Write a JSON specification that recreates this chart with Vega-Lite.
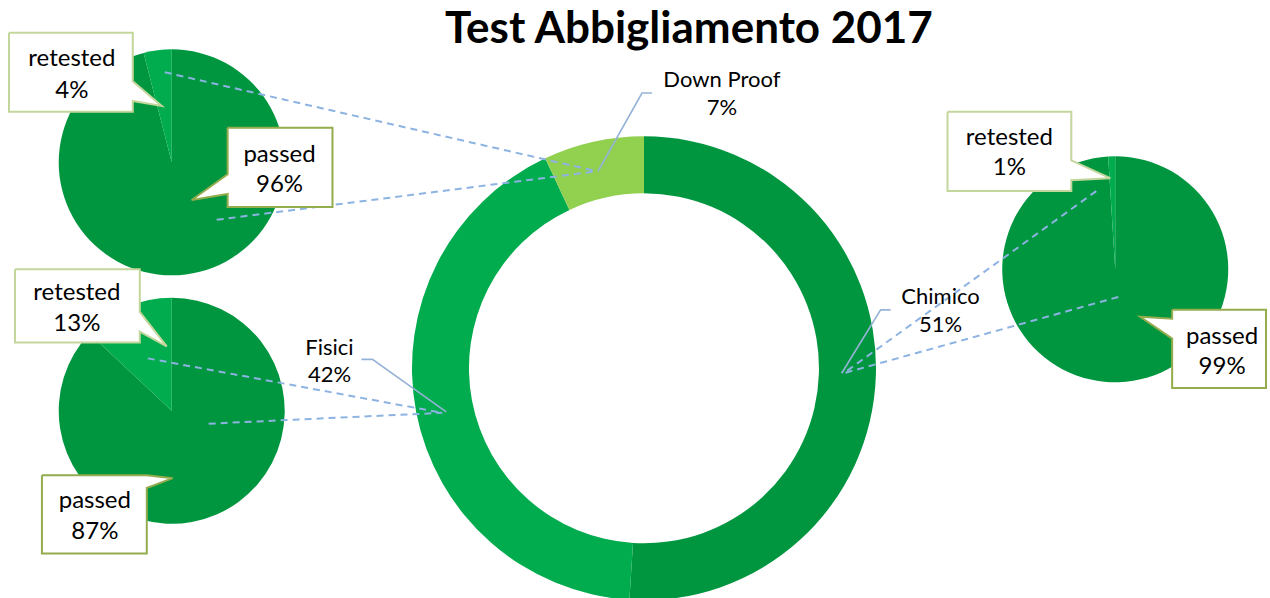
{
  "$schema": "https://vega.github.io/schema/vega-lite/v6.json",
  "width": 1270,
  "height": 598,
  "autosize": {"type": "fit", "contains": "padding"},
  "padding": 0,
  "background": "white",
  "config": {
    "view": {"stroke": null},
    "axis": {"disable": true},
    "text": {"font": "Lato", "color": "#000000"}
  },
  "datasets": {
    "slices": [
      {"chart": "donut", "label": "Chimico", "pct": 51, "ord": 1},
      {"chart": "donut", "label": "Fisici", "pct": 42, "ord": 2},
      {"chart": "donut", "label": "Down Proof", "pct": 7, "ord": 3},
      {"chart": "topleft", "label": "passed", "pct": 96, "ord": 1},
      {"chart": "topleft", "label": "retested", "pct": 4, "ord": 2},
      {"chart": "bottomleft", "label": "passed", "pct": 87, "ord": 1},
      {"chart": "bottomleft", "label": "retested", "pct": 13, "ord": 2},
      {"chart": "right", "label": "passed", "pct": 99, "ord": 1},
      {"chart": "right", "label": "retested", "pct": 1, "ord": 2}
    ],
    "callouts": [
      {"id": "A", "kind": "retested", "i": 1, "x": 9, "y": 33},
      {"id": "A", "kind": "retested", "i": 2, "x": 133, "y": 33},
      {"id": "A", "kind": "retested", "i": 3, "x": 133, "y": 82},
      {"id": "A", "kind": "retested", "i": 4, "x": 162, "y": 107},
      {"id": "A", "kind": "retested", "i": 5, "x": 133, "y": 102},
      {"id": "A", "kind": "retested", "i": 6, "x": 133, "y": 113},
      {"id": "A", "kind": "retested", "i": 7, "x": 9, "y": 113},
      {"id": "A", "kind": "retested", "i": 8, "x": 9, "y": 33},
      {"id": "B", "kind": "passed", "i": 1, "x": 228, "y": 129},
      {"id": "B", "kind": "passed", "i": 2, "x": 333, "y": 129},
      {"id": "B", "kind": "passed", "i": 3, "x": 333, "y": 209},
      {"id": "B", "kind": "passed", "i": 4, "x": 228, "y": 209},
      {"id": "B", "kind": "passed", "i": 5, "x": 228, "y": 196},
      {"id": "B", "kind": "passed", "i": 6, "x": 192, "y": 202},
      {"id": "B", "kind": "passed", "i": 7, "x": 228, "y": 176},
      {"id": "B", "kind": "passed", "i": 8, "x": 228, "y": 129},
      {"id": "C", "kind": "retested", "i": 1, "x": 15, "y": 272},
      {"id": "C", "kind": "retested", "i": 2, "x": 140, "y": 272},
      {"id": "C", "kind": "retested", "i": 3, "x": 140, "y": 315},
      {"id": "C", "kind": "retested", "i": 4, "x": 167, "y": 350},
      {"id": "C", "kind": "retested", "i": 5, "x": 140, "y": 335},
      {"id": "C", "kind": "retested", "i": 6, "x": 140, "y": 346},
      {"id": "C", "kind": "retested", "i": 7, "x": 15, "y": 346},
      {"id": "C", "kind": "retested", "i": 8, "x": 15, "y": 272},
      {"id": "D", "kind": "passed", "i": 1, "x": 42, "y": 480},
      {"id": "D", "kind": "passed", "i": 2, "x": 147, "y": 480},
      {"id": "D", "kind": "passed", "i": 3, "x": 173, "y": 483},
      {"id": "D", "kind": "passed", "i": 4, "x": 147, "y": 493},
      {"id": "D", "kind": "passed", "i": 5, "x": 147, "y": 559},
      {"id": "D", "kind": "passed", "i": 6, "x": 42, "y": 559},
      {"id": "D", "kind": "passed", "i": 7, "x": 42, "y": 480},
      {"id": "E", "kind": "retested", "i": 1, "x": 949, "y": 113},
      {"id": "E", "kind": "retested", "i": 2, "x": 1073, "y": 113},
      {"id": "E", "kind": "retested", "i": 3, "x": 1073, "y": 162},
      {"id": "E", "kind": "retested", "i": 4, "x": 1112, "y": 180},
      {"id": "E", "kind": "retested", "i": 5, "x": 1073, "y": 182},
      {"id": "E", "kind": "retested", "i": 6, "x": 1073, "y": 193},
      {"id": "E", "kind": "retested", "i": 7, "x": 949, "y": 193},
      {"id": "E", "kind": "retested", "i": 8, "x": 949, "y": 113},
      {"id": "F", "kind": "passed", "i": 1, "x": 1174, "y": 313},
      {"id": "F", "kind": "passed", "i": 2, "x": 1268, "y": 313},
      {"id": "F", "kind": "passed", "i": 3, "x": 1268, "y": 392},
      {"id": "F", "kind": "passed", "i": 4, "x": 1174, "y": 392},
      {"id": "F", "kind": "passed", "i": 5, "x": 1174, "y": 342},
      {"id": "F", "kind": "passed", "i": 6, "x": 1142, "y": 320},
      {"id": "F", "kind": "passed", "i": 7, "x": 1174, "y": 322},
      {"id": "F", "kind": "passed", "i": 8, "x": 1174, "y": 313}
    ],
    "dashes": [
      {"id": "d1", "i": 1, "x": 165, "y": 73},
      {"id": "d1", "i": 2, "x": 598, "y": 173},
      {"id": "d2", "i": 1, "x": 217, "y": 222},
      {"id": "d2", "i": 2, "x": 598, "y": 173},
      {"id": "d3", "i": 1, "x": 148, "y": 362},
      {"id": "d3", "i": 2, "x": 443, "y": 417},
      {"id": "d4", "i": 1, "x": 209, "y": 428},
      {"id": "d4", "i": 2, "x": 443, "y": 417},
      {"id": "d5", "i": 1, "x": 1098, "y": 193},
      {"id": "d5", "i": 2, "x": 845, "y": 377},
      {"id": "d6", "i": 1, "x": 1120, "y": 300},
      {"id": "d6", "i": 2, "x": 845, "y": 377}
    ],
    "leaders": [
      {"id": "Down Proof", "i": 1, "x": 653, "y": 94},
      {"id": "Down Proof", "i": 2, "x": 643, "y": 94},
      {"id": "Down Proof", "i": 3, "x": 599, "y": 173},
      {"id": "Fisici", "i": 1, "x": 362, "y": 363},
      {"id": "Fisici", "i": 2, "x": 373, "y": 363},
      {"id": "Fisici", "i": 3, "x": 447, "y": 416},
      {"id": "Chimico", "i": 1, "x": 892, "y": 313},
      {"id": "Chimico", "i": 2, "x": 882, "y": 313},
      {"id": "Chimico", "i": 3, "x": 843, "y": 377}
    ],
    "calloutText": [
      {"text": "retested", "x": 72, "y": 60},
      {"text": "4%", "x": 72, "y": 92},
      {"text": "passed", "x": 280, "y": 157},
      {"text": "96%", "x": 280, "y": 187},
      {"text": "retested", "x": 77, "y": 296},
      {"text": "13%", "x": 77, "y": 327},
      {"text": "passed", "x": 95, "y": 506},
      {"text": "87%", "x": 95, "y": 537},
      {"text": "retested", "x": 1011, "y": 139},
      {"text": "1%", "x": 1011, "y": 170},
      {"text": "passed", "x": 1224, "y": 340},
      {"text": "99%", "x": 1224, "y": 371}
    ],
    "donutText": [
      {"text": "Down Proof", "x": 723, "y": 81},
      {"text": "7%", "x": 723, "y": 109},
      {"text": "Fisici", "x": 330, "y": 352},
      {"text": "42%", "x": 330, "y": 379},
      {"text": "Chimico", "x": 942, "y": 300},
      {"text": "51%", "x": 942, "y": 328}
    ],
    "titleText": [
      {"text": "Test Abbigliamento 2017", "x": 690, "y": 43}
    ]
  },
  "layer": [
    {
      "data": {"name": "slices"},
      "transform": [{"filter": "datum.chart == 'donut'"}],
      "mark": {"type": "arc", "outerRadius": 232, "innerRadius": 175},
      "encoding": {
        "x": {"datum": 645, "type": "quantitative", "scale": {"domain": [0, 1270], "nice": false, "zero": false}},
        "y": {"datum": 372, "type": "quantitative", "scale": {"domain": [0, 598], "nice": false, "zero": false, "reverse": true}},
        "theta": {"field": "pct", "type": "quantitative", "stack": true, "scale": {"domain": [0, 100]}},
        "order": {"field": "ord", "type": "quantitative"},
        "color": {
          "field": "label", "type": "nominal", "legend": null,
          "scale": {"domain": ["Chimico", "Fisici", "Down Proof", "passed", "retested"], "range": ["#00963F", "#00AC4E", "#92D050", "#00963F", "#00AC4E"]}
        }
      }
    },
    {
      "data": {"name": "slices"},
      "transform": [{"filter": "datum.chart == 'topleft'"}],
      "mark": {"type": "arc", "outerRadius": 113},
      "encoding": {
        "x": {"datum": 172, "type": "quantitative"},
        "y": {"datum": 164, "type": "quantitative"},
        "theta": {"field": "pct", "type": "quantitative", "stack": true},
        "order": {"field": "ord", "type": "quantitative"},
        "color": {"field": "label", "type": "nominal", "legend": null}
      }
    },
    {
      "data": {"name": "slices"},
      "transform": [{"filter": "datum.chart == 'bottomleft'"}],
      "mark": {"type": "arc", "outerRadius": 113},
      "encoding": {
        "x": {"datum": 172, "type": "quantitative"},
        "y": {"datum": 415, "type": "quantitative"},
        "theta": {"field": "pct", "type": "quantitative", "stack": true},
        "order": {"field": "ord", "type": "quantitative"},
        "color": {"field": "label", "type": "nominal", "legend": null}
      }
    },
    {
      "data": {"name": "slices"},
      "transform": [{"filter": "datum.chart == 'right'"}],
      "mark": {"type": "arc", "outerRadius": 113},
      "encoding": {
        "x": {"datum": 1117, "type": "quantitative"},
        "y": {"datum": 272, "type": "quantitative"},
        "theta": {"field": "pct", "type": "quantitative", "stack": true},
        "order": {"field": "ord", "type": "quantitative"},
        "color": {"field": "label", "type": "nominal", "legend": null}
      }
    },
    {
      "data": {"name": "dashes"},
      "mark": {"type": "line", "stroke": "#8DB3E2", "strokeWidth": 2, "strokeDash": [7, 5]},
      "encoding": {
        "x": {"field": "x", "type": "quantitative"},
        "y": {"field": "y", "type": "quantitative"},
        "detail": {"field": "id"},
        "order": {"field": "i", "type": "quantitative"}
      }
    },
    {
      "data": {"name": "leaders"},
      "mark": {"type": "line", "stroke": "#95B3D7", "strokeWidth": 1.6},
      "encoding": {
        "x": {"field": "x", "type": "quantitative"},
        "y": {"field": "y", "type": "quantitative"},
        "detail": {"field": "id"},
        "order": {"field": "i", "type": "quantitative"}
      }
    },
    {
      "data": {"name": "callouts"},
      "mark": {"type": "line", "fill": "#FFFFFF", "strokeWidth": 2, "strokeJoin": "miter"},
      "encoding": {
        "x": {"field": "x", "type": "quantitative"},
        "y": {"field": "y", "type": "quantitative"},
        "detail": {"field": "id"},
        "order": {"field": "i", "type": "quantitative"},
        "stroke": {
          "field": "kind", "type": "nominal", "legend": null,
          "scale": {"domain": ["retested", "passed"], "range": ["#C3D69B", "#93AC4E"]}
        }
      }
    },
    {
      "data": {"name": "calloutText"},
      "mark": {"type": "text", "fontSize": 24, "baseline": "middle", "align": "center"},
      "encoding": {
        "x": {"field": "x", "type": "quantitative"},
        "y": {"field": "y", "type": "quantitative"},
        "text": {"field": "text"}
      }
    },
    {
      "data": {"name": "donutText"},
      "mark": {"type": "text", "fontSize": 22, "baseline": "middle", "align": "center"},
      "encoding": {
        "x": {"field": "x", "type": "quantitative"},
        "y": {"field": "y", "type": "quantitative"},
        "text": {"field": "text"}
      }
    },
    {
      "data": {"name": "titleText"},
      "mark": {"type": "text", "fontSize": 44, "fontWeight": "bold", "baseline": "alphabetic", "align": "center"},
      "encoding": {
        "x": {"field": "x", "type": "quantitative"},
        "y": {"field": "y", "type": "quantitative"},
        "text": {"field": "text"}
      }
    }
  ]
}
